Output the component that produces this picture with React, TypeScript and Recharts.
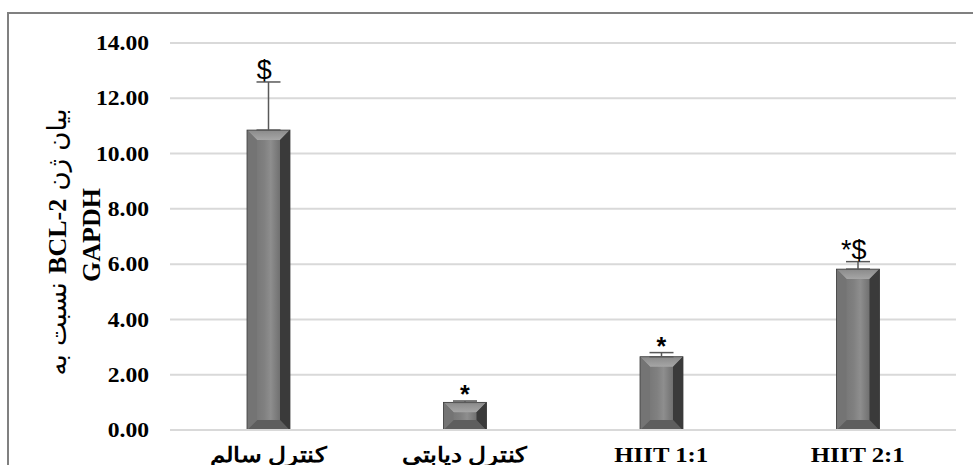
import React from "react";
import {
  ComposedChart,
  Bar,
  Line,
  XAxis,
  YAxis,
  CartesianGrid,
  ErrorBar,
  LabelList,
} from "recharts";

const categories = ["کنترل سالم", "کنترل دیابتی", "HIIT 1:1", "HIIT 2:1"];
const means = [10.85, 1.0, 2.65, 5.82];
const errUp = [1.74, 0.05, 0.15, 0.27];
const marks = ["$", "*", "*", "*$"];
const yTicks = [0, 2, 4, 6, 8, 10, 12, 14];

const data = categories.map((name, i) => ({
  name,
  value: means[i],
  err: [0, errUp[i]],
  markTop: means[i] + errUp[i],
  mark: marks[i],
}));

const serif = "Liberation Serif, Times New Roman";
// the source image is a bit wider than tall, text looks stretched
const STRETCH = 1.18;

function BevelBar(props: any) {
  const { x, y, width: w, height: h } = props;
  if (!h || h <= 0) return null;
  const b = Math.min(10, h / 2.5, w / 3);
  return (
    <g>
      <rect x={x} y={y} width={w} height={h} fill="url(#faceGrad)" />
      <polygon points={`${x},${y} ${x + w},${y} ${x + w - b},${y + b} ${x + b},${y + b}`} fill="url(#topGrad)" />
      <polygon points={`${x},${y + h} ${x + w},${y + h} ${x + w - b},${y + h - b} ${x + b},${y + h - b}`} fill="#5e5e5e" />
      <polygon points={`${x},${y} ${x + b},${y + b} ${x + b},${y + h - b} ${x},${y + h}`} fill="#747474" />
      <polygon points={`${x + w},${y} ${x + w - b},${y + b} ${x + w - b},${y + h - b} ${x + w},${y + h}`} fill="#3a3a3a" />
      <rect x={x} y={y} width={w} height={h} fill="none" stroke="#3c3c3c" strokeWidth={0.8} />
    </g>
  );
}

function YTick(props: any) {
  const { x, y, payload } = props;
  return (
    <g transform={`translate(${x},${y}) scale(${STRETCH},1)`}>
      <text x={0} y={0} dy="0.355em" textAnchor="end" fontFamily={serif} fontWeight="bold" fontSize={20} fill="#000">
        {Number(payload.value).toFixed(2)}
      </text>
    </g>
  );
}

function XTick(props: any) {
  const { x, y, payload } = props;
  return (
    <g transform={`translate(${x},${y}) scale(${STRETCH},1)`}>
      <text x={0} y={0} dy="0.71em" textAnchor="middle" fontFamily={serif} fontWeight="bold" fontSize={21} fill="#000">
        {payload.value}
      </text>
    </g>
  );
}

function renderMark(props: any) {
  const { x, y, value } = props;
  if (value === "*") {
    return (
      <text x={x} y={y + 2} textAnchor="middle" fontFamily="Liberation Sans, Arial" fontWeight="bold" fontSize={25} fill="#000">
        *
      </text>
    );
  }
  return (
    <text x={x - 4} y={y - 3} textAnchor="middle" fontFamily="Liberation Sans, Arial" fontSize={27} fill="#000">
      {value}
    </text>
  );
}

function YTitle() {
  return (
    <g fontFamily={serif} fontWeight="bold" fontSize={26} fill="#000">
      <text x={57} y={242} transform="rotate(-90 57 242)" textAnchor="middle" dominantBaseline="central" direction="rtl">
        <tspan fontFamily="DejaVu Sans" fontWeight="normal" fontSize={26}>بیان ژن </tspan>
        <tspan>BCL-2</tspan>
        <tspan fontFamily="DejaVu Sans" fontWeight="normal" fontSize={26}> نسبت به</tspan>
      </text>
      <text x={91} y={235} transform="rotate(-90 91 235)" textAnchor="middle" dominantBaseline="central">
        GAPDH
      </text>
    </g>
  );
}

export default function App() {
  return (
    <div style={{ position: "absolute", left: 0, top: 0, width: 973, height: 465, overflow: "hidden", background: "#fff" }}>
      <div style={{ position: "absolute", left: 7, top: 12, width: 1000, height: 500, border: "2px solid #808080", boxSizing: "border-box" }} />
      <div style={{ position: "absolute", left: 0, top: 0 }}>
        <ComposedChart width={973} height={465} data={data} margin={{ top: 43, right: 17, bottom: 5, left: 0 }}>
          <defs>
            <linearGradient id="faceGrad" x1="0" y1="0" x2="1" y2="0">
              <stop offset="0%" stopColor="#6e6e6e" />
              <stop offset="40%" stopColor="#808080" />
              <stop offset="55%" stopColor="#8e8e8e" />
              <stop offset="80%" stopColor="#6c6c6c" />
              <stop offset="100%" stopColor="#2c2c2c" />
            </linearGradient>
            <linearGradient id="topGrad" x1="0" y1="0" x2="0" y2="1">
              <stop offset="0%" stopColor="#8a8a8a" />
              <stop offset="100%" stopColor="#a6a6a6" />
            </linearGradient>
          </defs>
          <CartesianGrid vertical={false} stroke="#d9d9d9" strokeWidth={2} />
          <XAxis
            dataKey="name"
            height={30}
            axisLine={{ stroke: "#d9d9d9", strokeWidth: 2 }}
            tickLine={false}
            tickSize={0}
            tickMargin={17}
            tick={<XTick />}
          />
          <YAxis
            width={170}
            domain={[0, 14]}
            ticks={yTicks}
            interval={0}
            axisLine={false}
            tickLine={false}
            tickSize={0}
            tickMargin={21}
            tick={<YTick />}
            label={<YTitle />}
          />
          <Bar dataKey="value" barSize={43} shape={<BevelBar />} isAnimationActive={false}>
            <ErrorBar dataKey="err" direction="y" width={12} stroke="#595959" strokeWidth={1.5} />
          </Bar>
          <Line dataKey="markTop" stroke="none" dot={false} activeDot={false} isAnimationActive={false}>
            <LabelList dataKey="mark" content={renderMark} />
          </Line>
        </ComposedChart>
      </div>
    </div>
  );
}
